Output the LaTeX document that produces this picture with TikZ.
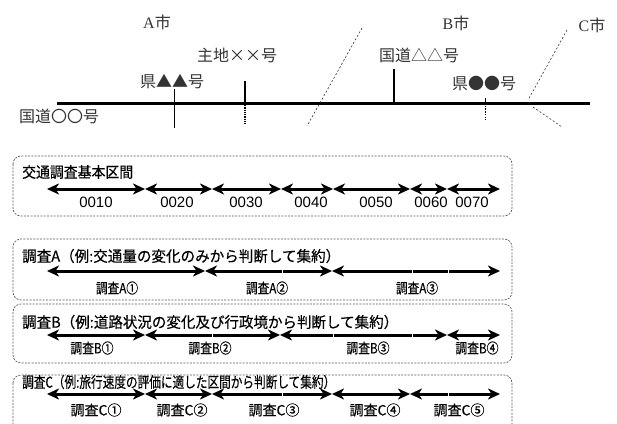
\documentclass[tikz,border=0pt]{standalone}
\usepackage{fontspec}
\usepackage{graphicx}
\setmainfont{Liberation Serif}
\newfontfamily\jp{Noto Sans CJK JP}
\newfontfamily\jpb[FakeBold=0.4]{Noto Sans CJK JP}
\newfontfamily\arial{Liberation Sans}
\usetikzlibrary{arrows.meta}
\newcommand\fitw[2]{\resizebox{#1}{\height}{#2}}
\begin{document}
\begin{tikzpicture}[x=1pt,y=-1pt,
  road/.style={line width=3pt},
  sideroad/.style={line width=2.6pt},
  thinroad/.style={line width=0.9pt},
  border/.style={line width=0.6pt, dash pattern=on 2pt off 2pt, black!80},
  toplbl/.style={inner sep=0pt, font=\fontsize{16}{16}\selectfont\jp, text=black!80},
  citylbl/.style={inner sep=0pt, font=\fontsize{16}{16}\selectfont, text=black!80},
  panel/.style={draw=black!65, line width=0.7pt, dash pattern=on 2pt off 1.3pt, rounded corners=8pt},
  title/.style={anchor=west, inner sep=0pt, font=\fontsize{15}{15}\selectfont\jpb},
  seg/.style={line width=3pt, {Stealth[length=12pt,width=11pt,inset=3.5pt]}-{Stealth[length=12pt,width=11pt,inset=3.5pt]}},
  gap/.style={white, line width=0.7pt},
  numlbl/.style={inner sep=0pt, font=\fontsize{15}{15}\selectfont\arial},
  seclbl/.style={inner sep=0pt, font=\fontsize{14}{14}\selectfont\jpb},
]
\useasboundingbox (0,0) rectangle (617,423);
\clip (0,0) rectangle (617,423);

% ---------- top map ----------
\coordinate (rw) at (57,103);
\coordinate (re) at (590,103);
\draw[road] (rw) -- (re);

\node[citylbl] (cityA) at (157,22) {A{\jp 市}};
\node[citylbl] (cityB) at (456,23) {B{\jp 市}};
\node[citylbl] (cityC) at (592,25) {C{\jp 市}};

\node[toplbl] (rmain) at (59,116) {国道〇〇号};
\node[toplbl] (rx) at (237,55) {主地××号};
\node[toplbl] (rtri) at (172,82) {県▲▲号};
\node[toplbl] (rdt) at (419,55) {国道△△号};
\node[toplbl] (rdot) at (484,84) {県●●号};

% 県▲▲号
\coordinate (p1t) at (174,89); \coordinate (p1b) at (174,128);
\draw[thinroad] (p1t) -- (p1b);
% 主地××号
\coordinate (p2t) at (245,81); \coordinate (p2m) at (245,103); \coordinate (p2b) at (245,124);
\draw[sideroad] (p2t) -- (p2m);
\draw[line width=2pt, dash pattern=on 1pt off 0.8pt] (p2m) -- (p2b);
% 国道△△号
\coordinate (p3t) at (394,69); \coordinate (p3b) at (394,103);
\draw[sideroad] (p3t) -- (p3b);
% 県●●号
\coordinate (p4t) at (485,98); \coordinate (p4m) at (485,103); \coordinate (p4b) at (485,120);
\draw[thinroad] (p4t) -- (p4m);
\draw[thinroad, dash pattern=on 1.5pt off 1.2pt] (p4m) -- (p4b);
% city borders
\coordinate (ab1) at (362,28); \coordinate (ab2) at (307,126);
\draw[border] (ab1) -- (ab2);
\coordinate (bc1) at (567,30); \coordinate (bc2) at (528,100);
\coordinate (bc3) at (533,107); \coordinate (bc4) at (562,127);
\draw[border] (bc1) -- (bc2);
\draw[border] (bc3) -- (bc4);

% ---------- panels ----------
\draw[panel] (13,156) rectangle (512,216);
\draw[panel] (13,239) rectangle (512,300);
\draw[panel] (13,304) rectangle (512,363);
\draw[panel] (13,375) rectangle (512,440);

\node[title] (t0) at (22,172) {\fitw{111pt}{交通調査基本区間}};
\node[title] (tA) at (22,256) {\fitw{318pt}{調査A（例:交通量の変化のみから判断して集約）}};
\node[title] (tB) at (22,322) {\fitw{376pt}{調査B（例:道路状況の変化及び行政境から判断して集約）}};
\node[title] (tC) at (22,382) {\fitw{313pt}{調査C（例:旅行速度の評価に適した区間から判断して集約）}};

% basic sections
\foreach \x [count=\i] in {47,145,212,281,333,410,447,500} \coordinate (b\i) at (\x,189);
\foreach \i [evaluate=\i as \j using int(\i+1)] in {1,...,7} \draw[seg] (b\i) -- (b\j);
\node[numlbl] (n1) at (96,202) {0010};
\node[numlbl] (n2) at (177,202) {0020};
\node[numlbl] (n3) at (246,202) {0030};
\node[numlbl] (n4) at (311,202) {0040};
\node[numlbl] (n5) at (376,202) {0050};
\node[numlbl] (n6) at (431,202) {0060};
\node[numlbl] (n7) at (472,202) {0070};

% survey A
\foreach \x [count=\i] in {47,205,332,500} \coordinate (a\i) at (\x,271);
\foreach \i [evaluate=\i as \j using int(\i+1)] in {1,...,3} \draw[seg] (a\i) -- (a\j);
\foreach \x in {282,412,448} \draw[gap] (\x,269.3) -- (\x,272.7);
\node[seclbl] (la1) at (117,288) {\fitw{42pt}{調査A①}};
\node[seclbl] (la2) at (267,288) {\fitw{42pt}{調査A②}};
\node[seclbl] (la3) at (417,288) {\fitw{42pt}{調査A③}};

% survey B
\foreach \x [count=\i] in {47,145,280,447,500} \coordinate (bb\i) at (\x,335);
\foreach \i [evaluate=\i as \j using int(\i+1)] in {1,...,4} \draw[seg] (bb\i) -- (bb\j);
\foreach \x in {212,333,412} \draw[gap] (\x,333.3) -- (\x,336.7);
\node[seclbl] (lb1) at (92,348) {\fitw{43pt}{調査B①}};
\node[seclbl] (lb2) at (210,348) {\fitw{43pt}{調査B②}};
\node[seclbl] (lb3) at (368,348) {\fitw{43pt}{調査B③}};
\node[seclbl] (lb4) at (477,348) {\fitw{43pt}{調査B④}};

% survey C
\foreach \x [count=\i] in {47,145,212,332,410,500} \coordinate (c\i) at (\x,394);
\foreach \i [evaluate=\i as \j using int(\i+1)] in {1,...,5} \draw[seg] (c\i) -- (c\j);
\foreach \x in {282,448} \draw[gap] (\x,392.3) -- (\x,395.7);
\node[seclbl] (lc1) at (96,410) {\fitw{51pt}{調査C①}};
\node[seclbl] (lc2) at (182,410) {\fitw{51pt}{調査C②}};
\node[seclbl] (lc3) at (274,410) {\fitw{51pt}{調査C③}};
\node[seclbl] (lc4) at (375,410) {\fitw{51pt}{調査C④}};
\node[seclbl] (lc5) at (459,410) {\fitw{51pt}{調査C⑤}};
\end{tikzpicture}
\end{document}
